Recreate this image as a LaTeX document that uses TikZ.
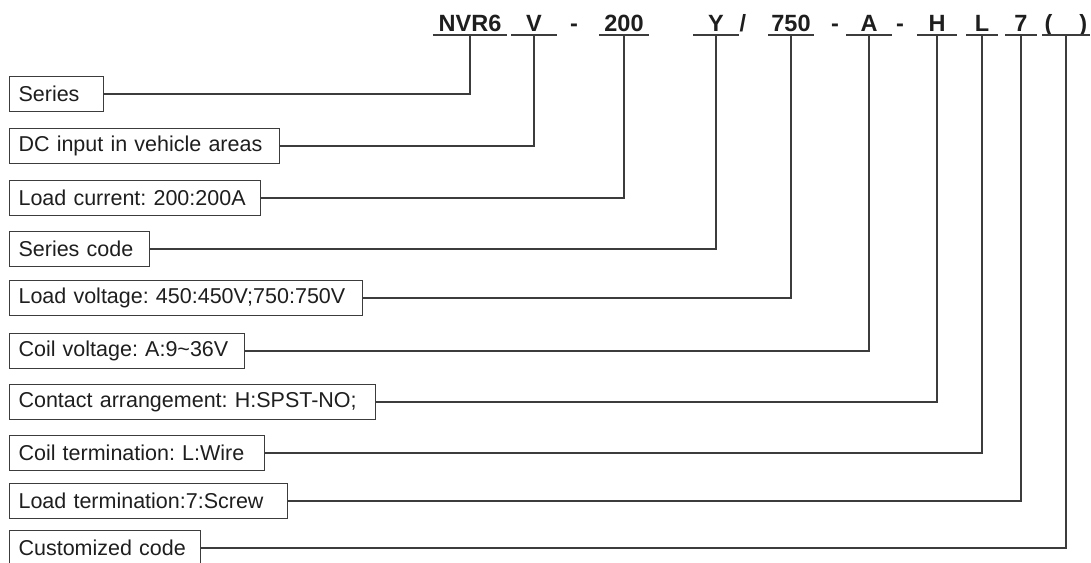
\documentclass[tikz,border=0pt]{standalone}
\usepackage{fontspec}
\setmainfont{Liberation Sans}
\usetikzlibrary{positioning}
\definecolor{linecolor}{RGB}{60,60,60}
\definecolor{txtcolor}{RGB}{30,30,30}
\frenchspacing

\begin{document}
\begin{tikzpicture}[x=1pt, y=-1pt,
    field/.style={draw=linecolor, line width=1.1pt, anchor=west, minimum height=35pt, inner xsep=9pt, inner ysep=0pt, align=left, text=txtcolor, font=\fontsize{21.5}{24}\selectfont},
    code/.style={anchor=south, inner sep=0pt, text depth=3pt, font=\bfseries\fontsize{23.5}{26}\selectfont, text=txtcolor},
    lead/.style={draw=linecolor, line width=1.1pt},
]
    \useasboundingbox (0,0) rectangle (1091,562);
    % part number code
    \node[code, minimum width=74pt] (cnvr) at (470,35) {NVR6};
    \node[code, minimum width=45pt] (cv) at (534,35) {V};
    \node[code] (dash1) at (574,35) {-};
    \node[code, minimum width=50pt] (ccur) at (624,35) {200};
    \node[code, minimum width=45pt] (cy) at (716,35) {Y};
    \node[code] (slash) at (743,35) {/};
    \node[code, minimum width=45pt] (cvolt) at (791,35) {750};
    \node[code] (dash2) at (835,35) {-};
    \node[code, minimum width=45pt] (ca) at (869,35) {A};
    \node[code] (dash3) at (900,35) {-};
    \node[code, minimum width=40pt] (ch) at (937,35) {H};
    \node[code, minimum width=31pt] (cl) at (982,35) {L};
    \node[code, minimum width=31pt] (c7) at (1021,35) {7};
    \node[code, minimum width=48pt] (ccust) at (1066,35) {(\hspace{27pt})};
    \foreach \c in {cnvr, cv, ccur, cy, cvolt, ca, ch, cl, c7, ccust}
        \draw[lead] (\c.south west) -- (\c.south east);
    % explanation boxes
    \node[field, text width=76pt] (series) at (9,94) {Series};
    \node[field, text width=252pt] (dcinput) at (9,146) {DC input in vehicle areas};
    \node[field, text width=233pt] (current) at (9,198) {Load current: 200:200A};
    \node[field, text width=122pt] (seriescode) at (9,249) {Series code};
    \node[field, text width=335pt] (voltage) at (9,298) {Load voltage: 450:450V;750:750V};
    \node[field, text width=217pt] (coil) at (9,351) {Coil voltage: A:9\textasciitilde36V};
    \node[field, text width=348pt] (contact) at (9,402) {Contact arrangement: H:SPST-NO;};
    \node[field, text width=237pt] (coilterm) at (9,453) {Coil termination: L:Wire};
    \node[field, text width=260pt] (loadterm) at (9,501) {Load termination:7:Screw};
    \node[field, text width=173pt] (custom) at (9,548) {Customized code};
    % leaders
    \draw[lead] (series.east) -| (cnvr.south);
    \draw[lead] (dcinput.east) -| (cv.south);
    \draw[lead] (current.east) -| (ccur.south);
    \draw[lead] (seriescode.east) -| (cy.south);
    \draw[lead] (voltage.east) -| (cvolt.south);
    \draw[lead] (coil.east) -| (ca.south);
    \draw[lead] (contact.east) -| (ch.south);
    \draw[lead] (coilterm.east) -| (cl.south);
    \draw[lead] (loadterm.east) -| (c7.south);
    \draw[lead] (custom.east) -| (ccust.south);
\end{tikzpicture}
\end{document}
